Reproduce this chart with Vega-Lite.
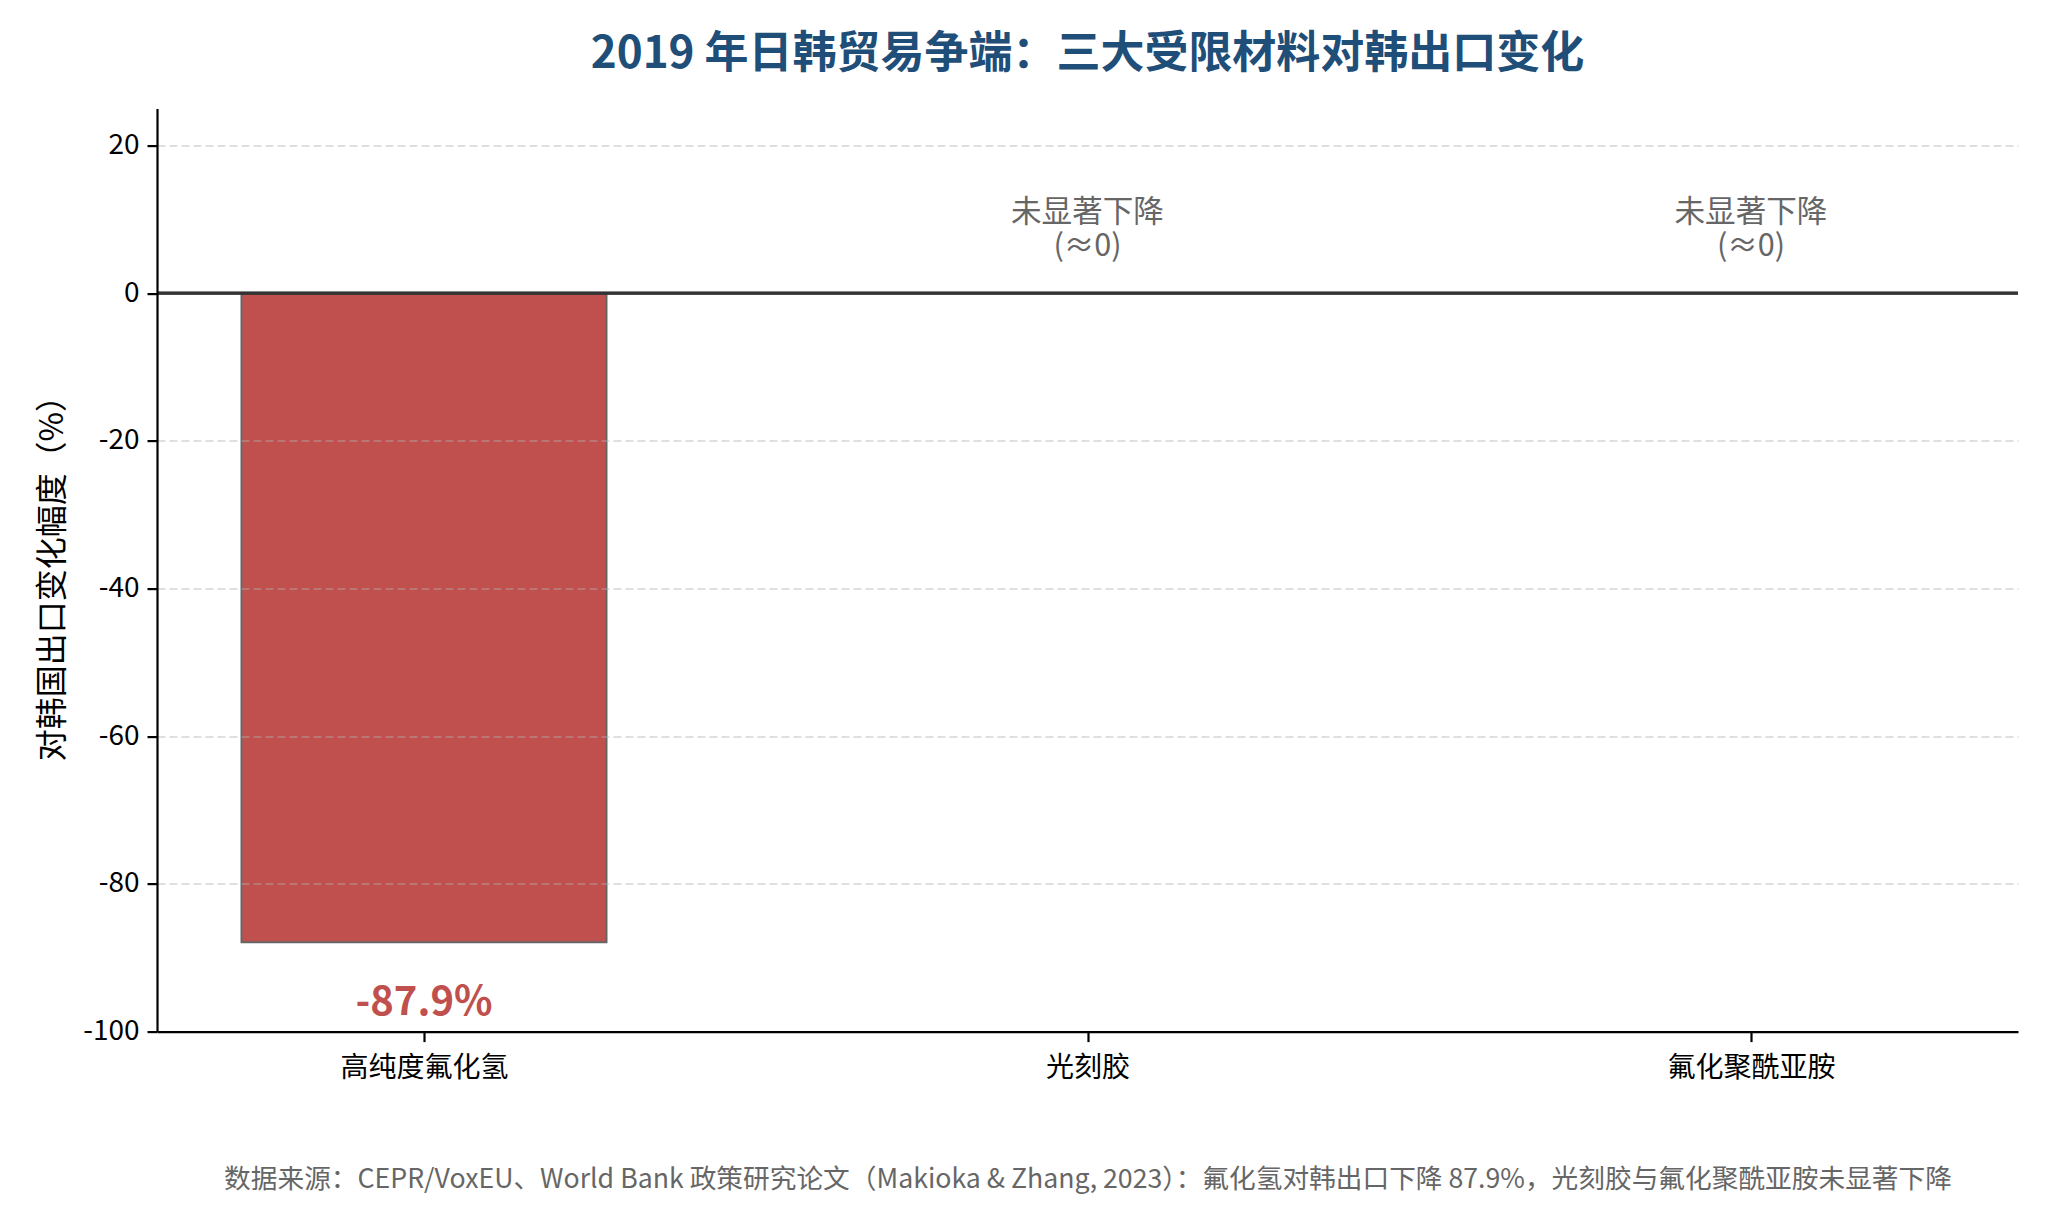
{
  "$schema": "https://vega.github.io/schema/vega-lite/v6.json",
  "autosize": "none",
  "width": 1861,
  "height": 923,
  "padding": {"left": 157, "top": 108.6, "right": 29, "bottom": 189.3},
  "background": "white",
  "config": {
    "font": "Noto Sans CJK SC",
    "view": {"stroke": null}
  },
  "title": {
    "text": "2019 年日韩贸易争端：三大受限材料对韩出口变化",
    "fontSize": 44,
    "fontWeight": "bold",
    "color": "#1F4E79",
    "anchor": "middle",
    "offset": 32
  },
  "data": {
    "values": [
      {"material": "高纯度氟化氢", "value": -87.9, "label": "-87.9%", "note": ""},
      {"material": "光刻胶", "value": 0, "label": "", "note": "未显著下降\n(≈0)"},
      {"material": "氟化聚酰亚胺", "value": 0, "label": "", "note": "未显著下降\n(≈0)"}
    ]
  },
  "layer": [
    {
      "transform": [{"filter": "datum.value != 0"}],
      "mark": {"type": "bar", "size": 365, "color": "#C0504D", "stroke": "#666666", "strokeWidth": 2},
      "encoding": {
        "x": {
          "field": "material",
          "type": "nominal",
          "sort": ["高纯度氟化氢", "光刻胶", "氟化聚酰亚胺"],
          "scale": {"type": "point", "padding": 0.4024, "domain": ["高纯度氟化氢", "光刻胶", "氟化聚酰亚胺"]},
          "axis": {
            "title": "数据来源：CEPR/VoxEU、World Bank 政策研究论文（Makioka & Zhang, 2023）：氟化氢对韩出口下降 87.9%，光刻胶与氟化聚酰亚胺未显著下降",
            "titleFontSize": 26.7,
            "titleFontWeight": "normal",
            "titleColor": "#666666",
            "titlePadding": 84,
            "labelAngle": 0,
            "labelFontSize": 28,
            "labelColor": "#000000",
            "labelPadding": 13,
            "domainColor": "#000000",
            "domainWidth": 2.2,
            "tickColor": "#000000",
            "tickWidth": 2.2,
            "tickSize": 10,
            "grid": false
          }
        },
        "y": {
          "field": "value",
          "type": "quantitative",
          "scale": {"domain": [-100, 25], "nice": false, "zero": false},
          "axis": {
            "title": "对韩国出口变化幅度（%）",
            "titleFontSize": 32,
            "titleFontWeight": "normal",
            "titleColor": "#000000",
            "titlePadding": 13,
            "values": [-100, -80, -60, -40, -20, 0, 20],
            "labelExpr": "datum.value < 0 ? '-' + abs(datum.value) : '' + datum.value",
            "labelFontSize": 28,
            "labelColor": "#000000",
            "labelPadding": 8,
            "domainColor": "#000000",
            "domainWidth": 2.2,
            "tickColor": "#000000",
            "tickWidth": 2.2,
            "tickSize": 10,
            "grid": true,
            "gridColor": "#b0b0b0",
            "gridOpacity": {"condition": {"test": "datum.value === 0 || datum.value === -100", "value": 0}, "value": 0.4},
            "gridDash": [8, 4],
            "gridWidth": 2,
            "zindex": 1
          }
        }
      }
    },
    {
      "mark": {"type": "rule", "color": "#333333", "strokeWidth": 2.8},
      "encoding": {"y": {"datum": 0}}
    },
    {
      "transform": [{"filter": "datum.value != 0"}],
      "mark": {"type": "text", "fontSize": 40, "fontWeight": "bold", "color": "#C0504D", "baseline": "middle", "align": "center"},
      "encoding": {
        "x": {"field": "material", "type": "nominal"},
        "y": {"datum": -96.1},
        "text": {"field": "label"}
      }
    },
    {
      "transform": [{"filter": "datum.value == 0"}],
      "mark": {"type": "text", "fontSize": 30.6, "color": "#666666", "baseline": "middle", "align": "center", "lineBreak": "\n", "lineHeight": 34},
      "encoding": {
        "x": {"field": "material", "type": "nominal"},
        "y": {"datum": 10.8},
        "text": {"field": "note"}
      }
    }
  ]
}
